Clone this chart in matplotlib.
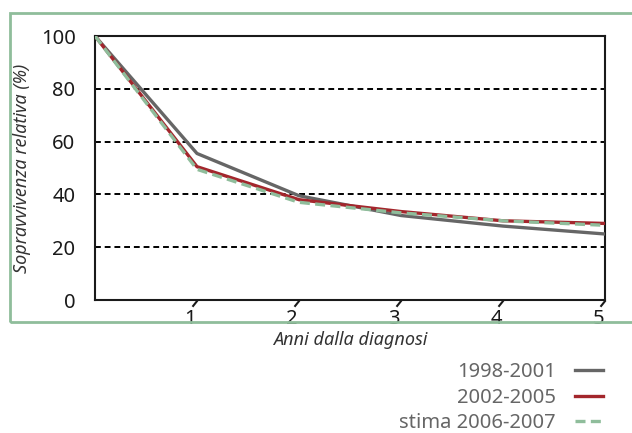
import numpy as np
import matplotlib
matplotlib.use("Agg")
import matplotlib.pyplot as plt
from matplotlib.patches import Rectangle
from matplotlib.path import Path

plt.rcParams['font.family'] = ['Noto Sans', 'DejaVu Sans']

anni = [0, 1, 2, 3, 4, 5]
s_1998_2001 = [100, 55.5, 39.5, 32, 28, 25]
s_2002_2005 = [100, 50.5, 38, 33.5, 30, 29]
s_2006_2007 = [100, 49.5, 37, 33, 30, 28.3]
etichette = ["1998-2001", "2002-2005", "stima 2006-2007"]
yticks = [0, 20, 40, 60, 80, 100]
xticks = [1, 2, 3, 4, 5]

W, H = 632, 433
fig = plt.figure(figsize=(W / 100, H / 100), dpi=100)
ax = fig.add_axes([95 / W, 1 - 300 / H, 510 / W, 264 / H])

# cornice verde
fig.patches.append(Rectangle((10 / W, 1 - 322 / H), 1.1, 309 / H, transform=fig.transFigure,
                             fill=False, edgecolor="#8fbd9b", lw=2, clip_on=False))

for y in yticks:
    ax.axhline(y, color="black", lw=1.4, ls=(0, (3, 2)), zorder=1)

l1, = ax.plot(anni, s_1998_2001, color="#666666", lw=2.4, zorder=3)
l2, = ax.plot(anni, s_2002_2005, color="#a3262c", lw=2.4, zorder=4)
l3, = ax.plot(anni, s_2006_2007, color="#8fbd9b", lw=2.4, ls=(0, (3, 1.6)), zorder=5)

ax.set_xlim(0, 5)
ax.set_ylim(0, 100)
for s in ["left", "right", "bottom", "top"]:
    ax.spines[s].set_color("#1a1a1a")
    ax.spines[s].set_linewidth(1.5)
    ax.spines[s].set_zorder(2)

ax.set_yticks(yticks)
ax.set_yticklabels([str(v) for v in yticks], fontsize=14.5, color="#1a1a1a")
ax.tick_params(axis="y", length=0, pad=14)

# tacche oblique
tick_mark = Path([(0, 0), (-0.8, -1)], [Path.MOVETO, Path.LINETO])
ax.set_xticks(xticks)
ax.set_xticklabels([])
ax.tick_params(axis="x", length=0)
ax.plot(xticks, [0] * len(xticks), ls="none", marker=tick_mark, markersize=9,
        markeredgecolor="#1a1a1a", markeredgewidth=1.5, clip_on=False, zorder=6)
for x in xticks:
    ax.annotate(str(x), (x, 0), xytext=(-5, -13.7), textcoords="offset points",
                ha="center", va="center", fontsize=14.5, color="#1a1a1a",
                annotation_clip=False)

fig.text(22 / W, 1 - 168 / H, "Sopravvivenza relativa (%)", rotation=90,
         ha="center", va="center", fontsize=13, style="italic", color="#333333")
fig.text(350 / W, 1 - 340 / H, "Anni dalla diagnosi", ha="center", va="center",
         fontsize=13, style="italic", color="#333333")

leg = fig.legend([l1, l2, l3], etichette, loc="upper right",
                 bbox_to_anchor=(613 / W, 1 - 352 / H), frameon=False, markerfirst=False,
                 borderpad=0, handlelength=1.4, handletextpad=0.95, labelspacing=0.28,
                 fontsize=14.5)
for t in leg.get_texts():
    t.set_color("#666666")

fig.savefig("out.png", dpi=100)
